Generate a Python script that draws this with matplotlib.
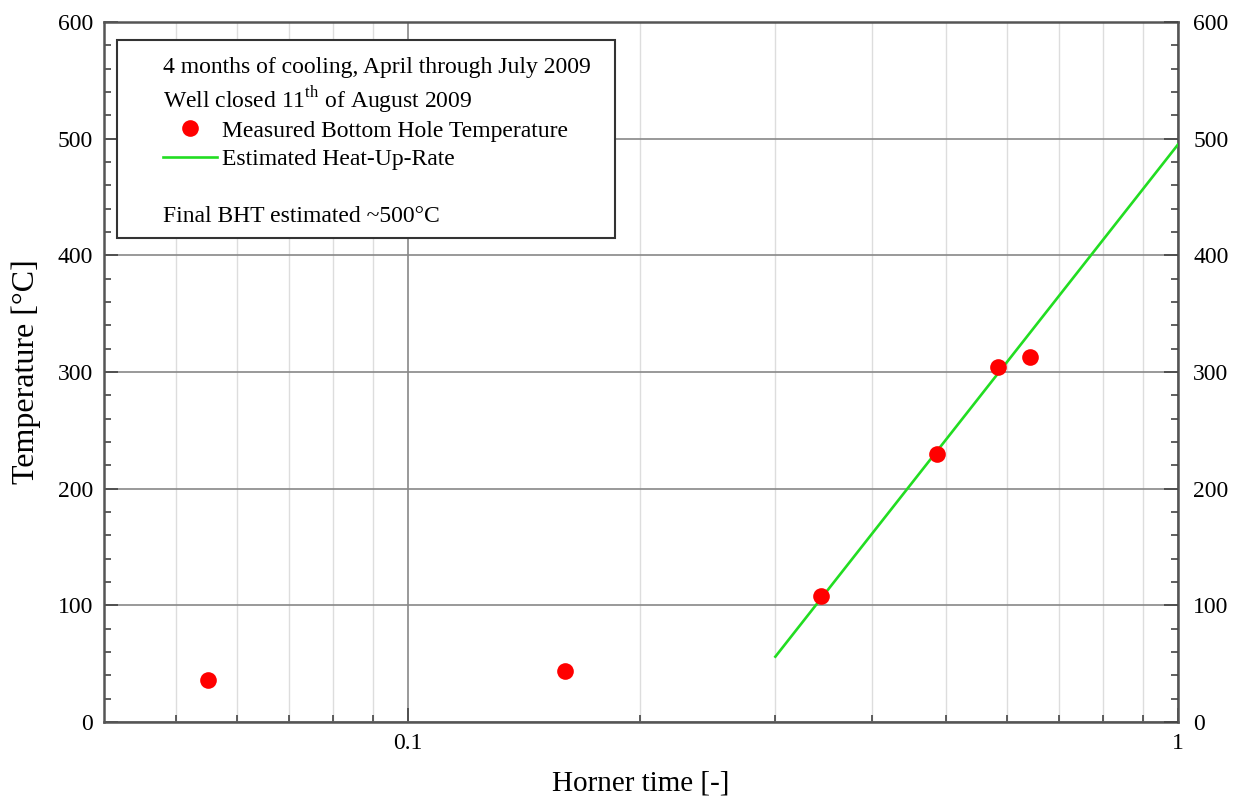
import numpy as np
import matplotlib.pyplot as plt
from matplotlib.patches import Rectangle
from matplotlib.ticker import FixedLocator, NullFormatter

plt.rcParams['font.family'] = ['Liberation Serif', 'DejaVu Serif']
plt.rcParams['mathtext.fontset'] = 'custom'
plt.rcParams['mathtext.rm'] = 'Liberation Serif'

# measured bottom hole temperatures vs Horner time
horner = [0.055, 0.160, 0.344, 0.486, 0.584, 0.642]
temp = [36, 44, 108, 230, 304, 313]

# estimated heat-up-rate line
fit_x = [0.3, 1.0]
fit_y = [56, 495]

y_ticks = [0, 100, 200, 300, 400, 500, 600]
x_ticks = [0.1, 1]
x_tick_labels = ['0.1', '1']

fig = plt.figure(figsize=(12.36, 7.98), dpi=100)
ax = fig.add_axes([104/1236, 1 - 722/798, 1074/1236, 700/798])

ax.set_xscale('log')
ax.set_xlim(0.0403, 1.0)
ax.set_ylim(0, 600)

ax.plot(fit_x, fit_y, color='#22dd22', lw=1.9, zorder=3,
        label='Estimated Heat-Up-Rate')
ax.plot(horner, temp, 'o', color='#ff0000', ms=12, mec='none', zorder=4,
        label='Measured Bottom Hole Temperature')

# ticks and grid
ax.xaxis.set_major_locator(FixedLocator(x_ticks))
ax.set_xticklabels(x_tick_labels)
minors = [m * d for d in (0.01, 0.1) for m in range(2, 10)]
ax.xaxis.set_minor_locator(FixedLocator(minors))
ax.xaxis.set_minor_formatter(NullFormatter())
ax.set_yticks(y_ticks)
ax.set_yticks(np.arange(0, 601, 20), minor=True)

ax.grid(which='major', color='#888888', lw=1.2)
ax.grid(which='minor', axis='x', color='#dddddd', lw=1.0)
ax.set_axisbelow(True)

ax.tick_params(which='both', direction='in', top=False, right=True,
               labelsize=17, color='#444444', width=1.2)
ax.tick_params(which='major', length=10, pad=8)
ax.tick_params(which='minor', length=5)

for s in ax.spines.values():
    s.set_color('#555555')
    s.set_linewidth(1.8)

ax2 = ax.twinx()
ax2.set_ylim(0, 600)
ax2.set_yticks(y_ticks)
ax2.set_yticks(np.arange(0, 601, 20), minor=True)
ax2.tick_params(which='both', direction='in', labelsize=17, color='#444444', width=1.2)
ax2.tick_params(which='major', length=10, pad=11)
ax2.tick_params(which='minor', length=5)
for s in ax2.spines.values():
    s.set_visible(False)

ax.set_xlabel('Horner time [-]', fontsize=21, labelpad=12)
ax.set_ylabel('Temperature [°C]', fontsize=23, labelpad=12)

# annotation box
def ax_xy(px, py):
    return ((px - 104) / 1074, (722 - py) / 700)

x0, y0 = ax_xy(117, 238)
x1, y1 = ax_xy(615, 40)
ax.add_patch(Rectangle((x0, y0), x1 - x0, y1 - y0, transform=ax.transAxes,
                       fill=True, fc='white', ec='#333333', lw=1.5, zorder=5))
tx, ty = ax_xy(163, 67)
ax.text(tx, ty, '4 months of cooling, April through July 2009', transform=ax.transAxes,
        fontsize=17, va='center', zorder=6)
tx, ty = ax_xy(163, 100)
ax.text(tx, ty, 'Well closed 11$^{\\mathrm{th}}$ of August 2009', transform=ax.transAxes,
        fontsize=17, va='center', zorder=6)
tx, ty = ax_xy(163, 217)
ax.text(tx, ty, 'Final BHT estimated ~500°C', transform=ax.transAxes,
        fontsize=17, va='center', zorder=6)

h, l = ax.get_legend_handles_labels()
lx, ly = ax_xy(163, 120)
leg = ax.legend(h[::-1], l[::-1], loc='upper left', bbox_to_anchor=(lx, ly),
                frameon=False, fontsize=17, numpoints=1, handlelength=2.3,
                handletextpad=0.2, borderpad=0, borderaxespad=0, labelspacing=0.3)
leg.set_zorder(7)

fig.savefig('out.png', dpi=100)
